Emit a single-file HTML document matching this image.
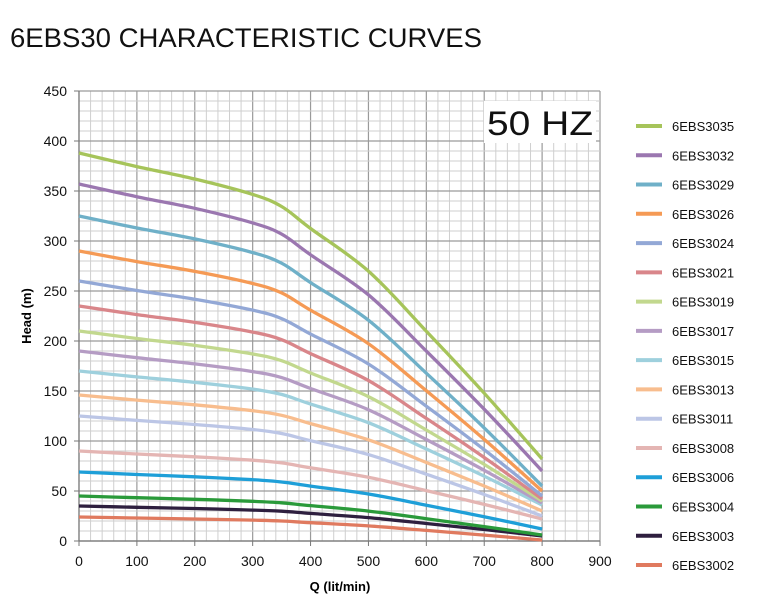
<!DOCTYPE html>
<html><head><meta charset="utf-8"><style>
html,body{margin:0;padding:0;background:#fff;}
svg{display:block;font-family:"Liberation Sans",sans-serif;}
</style></head><body>
<svg id="s" width="775" height="612" xmlns="http://www.w3.org/2000/svg">
<text x="10" y="47" font-size="27" fill="#111" textLength="472" lengthAdjust="spacingAndGlyphs">6EBS30 CHARACTERISTIC CURVES</text>
<g id="grid"></g>
<g id="curves"></g>
<rect x="484" y="101" width="112" height="42" fill="#fff"/>
<text x="487" y="135" font-size="34" fill="#111" textLength="106" lengthAdjust="spacingAndGlyphs">50 HZ</text>
<text transform="translate(31,316) rotate(-90)" font-size="13" font-weight="bold" text-anchor="middle">Head (m)</text>
<text x="340" y="591" font-size="13" font-weight="bold" text-anchor="middle">Q (lit/min)</text>
<g id="leg"></g>
</svg>
<script>
var NS="http://www.w3.org/2000/svg";
function el(p,t,a,txt){var e=document.createElementNS(NS,t);for(var k in a)e.setAttribute(k,a[k]);if(txt!=null)e.textContent=txt;p.appendChild(e);return e;}
var X0=79,X1=600,Y0=541,Y1=91;
function px(q){return X0+(X1-X0)*q/900;}
function py(h){return Y0-(Y0-Y1)*h/450;}
var g=document.getElementById('grid');
for(var q=0;q<=900;q+=20){var maj=q%100==0;el(g,'line',{x1:px(q),x2:px(q),y1:Y1,y2:Y0,stroke:maj?'#9a9a9a':'#cfcfcf','stroke-width':maj?1.2:1});}
for(var h=0;h<=450;h+=10){var maj=h%50==0;el(g,'line',{x1:X0,x2:X1,y1:py(h),y2:py(h),stroke:maj?'#9a9a9a':'#cfcfcf','stroke-width':maj?1.2:1});}
el(g,'line',{x1:X0,x2:X0,y1:Y1,y2:Y0,stroke:'#777','stroke-width':1.2});
el(g,'line',{x1:X0,x2:X1,y1:Y0,y2:Y0,stroke:'#777','stroke-width':1.2});
for(var h=0;h<=450;h+=50){el(g,'line',{x1:X0-5,x2:X0,y1:py(h),y2:py(h),stroke:'#777'});el(g,'text',{x:X0-12,y:py(h)+5,'font-size':14,'text-anchor':'end',fill:'#111'},String(h));}
for(var q=0;q<=900;q+=100){el(g,'line',{x1:px(q),x2:px(q),y1:Y0,y2:Y0+5,stroke:'#777'});el(g,'text',{x:px(q),y:Y0+25,'font-size':14,'text-anchor':'middle',fill:'#111'},String(q));}
var shape=[[0,1],[100,.965],[200,.933],[300,.893],[350,.862],[400,.805],[500,.695],[600,.54],[700,.38],[800,.21]];
var series=[["6EBS3035",388,"#a6c45a",82],["6EBS3032",357,"#9b77b0",70],["6EBS3029",325,"#6fb0c8",55],["6EBS3026",290,"#f59a55",50],["6EBS3024",260,"#93a8d6",45],["6EBS3021",235,"#d9868a",42],["6EBS3019",210,"#c2d88e",40],["6EBS3017",190,"#b59cc4",38],["6EBS3015",170,"#9ed0dd",36],["6EBS3013",146,"#f8bd8e",30],["6EBS3011",125,"#bcc6e6",25],["6EBS3008",90,"#e4b5b3",22],["6EBS3006",69,"#1e9fd8",12],["6EBS3004",45,"#2a9a3a",6],["6EBS3003",35,"#2e1f3f",5],["6EBS3002",24,"#e07a5f",1]];
function smooth(P){var d="M"+P[0][0].toFixed(1)+","+P[0][1].toFixed(1);
for(var i=0;i<P.length-1;i++){var p0=P[i-1]||P[i],p1=P[i],p2=P[i+1],p3=P[i+2]||p2;var t=1/6;
d+="C"+(p1[0]+(p2[0]-p0[0])*t).toFixed(1)+","+(p1[1]+(p2[1]-p0[1])*t).toFixed(1)+" "+(p2[0]-(p3[0]-p1[0])*t).toFixed(1)+","+(p2[1]-(p3[1]-p1[1])*t).toFixed(1)+" "+p2[0].toFixed(1)+","+p2[1].toFixed(1);}
return d;}
var c=document.getElementById('curves'),L=document.getElementById('leg');
for(var i=series.length-1;i>=0;i--){var s=series[i],H=s[1],end=s[3];var r8=end/H;
var P=shape.map(function(p){var f=(1-p[1])/(1-.21);var rr=1-f*(1-r8);return [px(p[0]),py(H*rr)];});
el(c,'path',{d:smooth(P),fill:'none',stroke:s[2],'stroke-width':3.3,'stroke-linejoin':'round'});}
series.forEach(function(s,i){var y=126+i*29.27;el(L,'line',{x1:636,x2:662,y1:y,y2:y,stroke:s[2],'stroke-width':4});el(L,'text',{x:672,y:y+5,'font-size':13,fill:'#111'},s[0]);});
</script>
</body></html>
